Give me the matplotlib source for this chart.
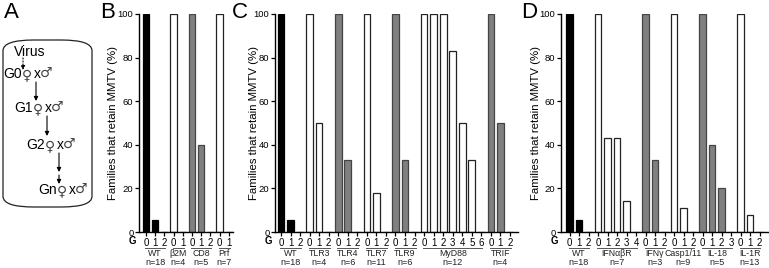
import matplotlib.pyplot as plt
from matplotlib.patches import FancyBboxPatch
from matplotlib import transforms

plt.rcParams['font.family'] = ['Liberation Sans', 'DejaVu Sans']

# panel B
b_groups = ['WT', 'β2M', 'CD8', 'Prf']
b_n = ['n=18', 'n=4', 'n=5', 'n=7']
b_vals = [[100, 5.5, 0], [100, 0], [100, 40, 0], [100, 0]]
b_fill = ['k', 'w', 'g', 'w']

# panel C
c_groups = ['WT', 'TLR3', 'TLR4', 'TLR7', 'TLR9', 'MyD88', 'TRIF']
c_n = ['n=18', 'n=4', 'n=6', 'n=11', 'n=6', 'n=12', 'n=4']
c_vals = [[100, 5.5, 0], [100, 50, 0], [100, 33, 0], [100, 18, 0],
          [100, 33, 0], [100, 100, 100, 83, 50, 33, 0], [100, 50, 0]]
c_fill = ['k', 'w', 'g', 'w', 'g', 'w', 'g']

# panel D
d_groups = ['WT', 'IFNαβR', 'IFNγ', 'Casp1/11', 'IL-18', 'IL-1R']
d_n = ['n=18', 'n=7', 'n=3', 'n=9', 'n=5', 'n=13']
d_vals = [[100, 5.5, 0], [100, 43, 43, 14, 0], [100, 33, 0], [100, 11, 0],
          [100, 40, 20, 0], [100, 7.7, 0]]
d_fill = ['k', 'w', 'g', 'w', 'g', 'w']

# panel A scheme rows
gen_labels = ['G0', 'G1', 'G2', 'Gn']

fills = {'k': 'black', 'w': 'white', 'g': '#808080'}
edges = {'k': 'black', 'w': '#222222', 'g': '#444444'}

W, H = 769, 268
fig = plt.figure(figsize=(W / 100, H / 100), dpi=100)


def fx(px):
    return px / W


def fy(py):
    return 1 - py / H


def panel(letter, letter_x, left, right, slot0, step, ylab_x,
          groups, nlab, vals, fill):
    ax = fig.add_axes([fx(left), fy(232), fx(right - left), (232 - 14) / H])
    tr = transforms.blended_transform_factory(ax.transData, fig.transFigure)
    x = 0
    ticks, tlabels = [], []
    for g, n, v, c in zip(groups, nlab, vals, fill):
        xs = list(range(x, x + len(v)))
        ax.bar(xs, v, width=0.7, color=fills[c], edgecolor=edges[c],
               linewidth=0.9)
        ticks += xs
        tlabels += [str(i) for i in range(len(v))]
        ax.plot([xs[0] - 0.1, xs[-1] + 0.1], [fy(247.5)] * 2, transform=tr,
                color='#555555', lw=0.7, clip_on=False)
        mid = (xs[0] + xs[-1]) / 2
        ax.text(mid, fy(253.5), g, transform=tr, ha='center', va='center',
                fontsize=6.3, color='#222222')
        ax.text(mid, fy(262.5), n, transform=tr, ha='center', va='center',
                fontsize=6.5, color='#222222')
        x += len(v)
    ax.set_xlim((left - slot0) / step, (right - slot0) / step)
    ax.set_ylim(0, 100)
    ax.set_yticks(range(0, 101, 20))
    ax.set_xticks(ticks)
    ax.set_xticklabels(tlabels)
    for s in ['top', 'right']:
        ax.spines[s].set_visible(False)
    for s in ['left', 'bottom']:
        ax.spines[s].set_linewidth(1.0)
    ax.tick_params(axis='y', labelsize=6.8, length=3, width=0.9, pad=1)
    ax.tick_params(axis='x', labelsize=7, length=3, width=0.9, pad=1.5)
    fig.text(fx(left - 7), fy(241.5), 'G', fontsize=7, fontweight='bold',
             ha='center', va='center')
    fig.text(fx(ylab_x), fy(123), 'Families that retain MMTV (%)',
             rotation=90, ha='center', va='center', fontsize=8.2)
    fig.text(fx(letter_x), fy(13), letter, fontsize=16, ha='left', va='center')
    return ax


panel('B', 100, 139, 233, 146, 9.2, 113, b_groups, b_n, b_vals, b_fill)
panel('C', 232, 275, 518, 281, 9.54, 254, c_groups, c_n, c_vals, c_fill)
panel('D', 521, 561, 768, 569.5, 9.5, 536, d_groups, d_n, d_vals, d_fill)

# panel A: breeding scheme
fig.text(fx(4), fy(13), 'A', fontsize=16, ha='left', va='center')
box = FancyBboxPatch((fx(3), fy(207)), fx(89), (207 - 40) / H,
                     boxstyle='round,pad=0,rounding_size=0.04',
                     transform=fig.transFigure, fill=False, lw=0.9,
                     edgecolor='#222222')
fig.add_artist(box)
fig.text(fx(14), fy(52), 'Virus', fontsize=10, va='center', ha='left')
for label, lx, ly in zip(gen_labels, [3, 14, 26, 38], [74, 108, 145, 190]):
    fig.text(fx(lx), fy(ly), label, fontsize=10, va='center', ha='left')
    fig.text(fx(lx + 19), fy(ly + 1), '♀', fontsize=10, va='center',
             ha='left', color='#444444', family='DejaVu Sans')
    fig.text(fx(lx + 30.5), fy(ly), 'x', fontsize=10, va='center', ha='left')
    fig.text(fx(lx + 37), fy(ly - 1), '♂', fontsize=10, va='center',
             ha='left', color='#444444', family='DejaVu Sans')

arrows = [(23, 58, 70, ':'), (36, 82, 101, '-'), (47, 116, 136, '-'),
          (59, 153, 172, '-'), (59, 175, 184, '-')]
for ax_x, y0, y1, ls in arrows:
    fig.add_artist(plt.Annotation('', xy=(fx(ax_x), fy(y1)),
                                  xytext=(fx(ax_x), fy(y0)),
                                  xycoords='figure fraction',
                                  arrowprops=dict(arrowstyle='-|>', lw=0.8,
                                                  ls=ls, color='black',
                                                  mutation_scale=6,
                                                  shrinkA=0, shrinkB=0)))

fig.savefig('out.png', dpi=100)
